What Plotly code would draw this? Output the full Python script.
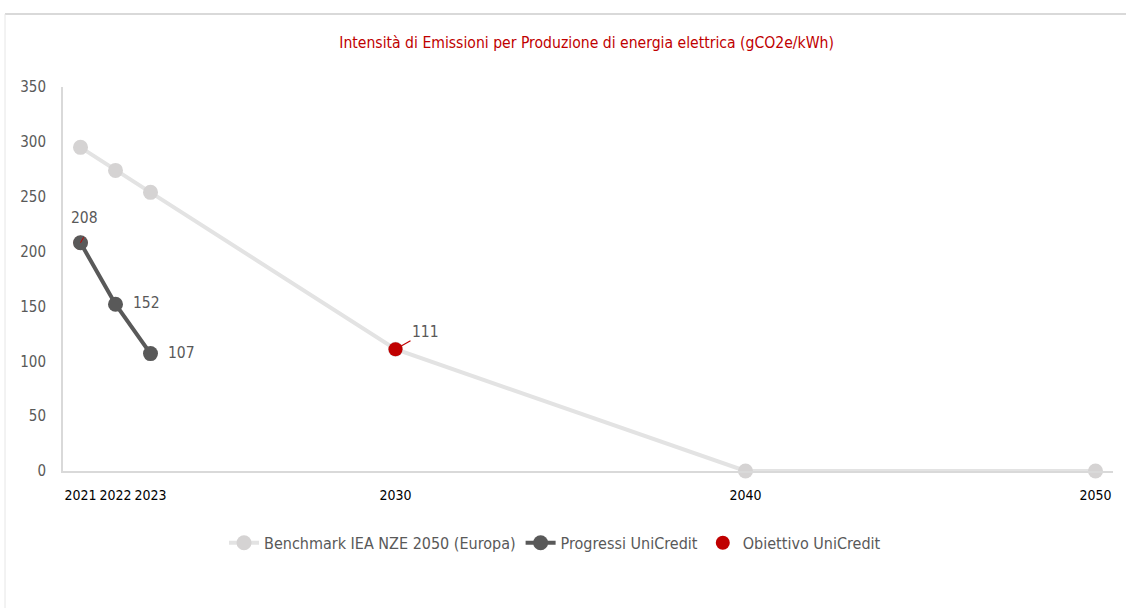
import plotly.graph_objects as go

years_bench = [2021, 2022, 2023, 2030, 2040, 2050]
bench_vals = [295, 274, 254, 111, 0, 0]
years_prog = [2021, 2022, 2023]
prog_vals = [208, 152, 107]
years_target = [2021, 2030]
target_vals = [208, 111]
tick_years = [2021, 2022, 2023, 2030, 2040, 2050]
y_ticks = [0, 50, 100, 150, 200, 250, 300, 350]

FONT = "DejaVu Sans Condensed, Liberation Sans Narrow, sans-serif"
GRAY_TXT = "#595959"
RED = "#C00000"

fig = go.Figure()
fig.add_trace(go.Scatter(
    x=years_bench, y=bench_vals, name="Benchmark IEA NZE 2050 (Europa)",
    mode="lines+markers", line=dict(color="#E3E3E3", width=4),
    marker=dict(color="#D5D3D3", size=15), cliponaxis=False, legendrank=1))
fig.add_trace(go.Scatter(
    x=years_target, y=target_vals, name="Obiettivo UniCredit",
    mode="markers", marker=dict(color=RED, size=14), cliponaxis=False, legendrank=3))
fig.add_trace(go.Scatter(
    x=years_prog, y=prog_vals, name="Progressi UniCredit",
    mode="lines+markers", line=dict(color="#595959", width=4),
    marker=dict(color="#595959", size=15), cliponaxis=False, legendrank=2))

LBL = dict(size=15.5, color=GRAY_TXT, family=FONT)
annotations = []
annotations.append(dict(x=years_prog[0], y=prog_vals[0], text=str(prog_vals[0]), showarrow=False,
                        xshift=4, yshift=25, font=LBL))
annotations.append(dict(x=years_prog[0], y=prog_vals[0], text="", showarrow=True, arrowhead=0,
                        arrowcolor=RED, arrowwidth=1, ax=4, ay=-7, standoff=0))
for xv, yv in zip(years_prog[1:], prog_vals[1:]):
    annotations.append(dict(x=xv, y=yv, text=str(yv), showarrow=False, xanchor="left",
                            xshift=15, yshift=1, font=LBL))
annotations.append(dict(x=years_target[1], y=target_vals[1], text=str(target_vals[1]), showarrow=True,
                        arrowhead=0, arrowcolor=RED, arrowwidth=1.2, ax=30, ay=-17, standoff=4,
                        font=LBL))

fig.update_layout(
    width=1126, height=608,
    paper_bgcolor="white", plot_bgcolor="white",
    margin=dict(l=63, r=13, t=87, b=137, autoexpand=False),
    font=dict(family=FONT, color=GRAY_TXT, size=16),
    title=dict(text="Intensità di Emissioni per Produzione di energia elettrica (gCO2e/kWh)",
               font=dict(family=FONT, size=15.6, color=RED), x=0.521, xanchor="center",
               y=1 - 43 / 608, yanchor="middle", automargin=False),
    showlegend=True,
    legend=dict(orientation="h", x=0.4686, xanchor="center", y=-0.187, yanchor="middle",
                font=dict(size=16, color=GRAY_TXT, family=FONT), traceorder="normal"),
    xaxis=dict(range=[2020.5, 2050.5], tickmode="array", tickvals=tick_years,
               ticktext=[str(t) for t in tick_years], showgrid=False, zeroline=False,
               showline=True, linecolor="#D9D9D9", linewidth=2, ticks="", tickangle=0,
               automargin=False,
               tickfont=dict(size=14, color="#000000", family=FONT), ticklabelstandoff=10),
    yaxis=dict(range=[0, 350], tickmode="array", tickvals=y_ticks, showgrid=False,
               zeroline=False, showline=True, linecolor="#D9D9D9", linewidth=2, ticks="",
               automargin=False,
               tickfont=dict(size=15, color=GRAY_TXT, family=FONT), ticklabelstandoff=12),
    annotations=annotations,
    shapes=[
        dict(type="line", xref="paper", yref="paper", x0=-58 / 1050, x1=1.02,
             y0=1 + 73 / 384, y1=1 + 73 / 384, line=dict(color="#D9D9D9", width=2)),
        dict(type="line", xref="paper", yref="paper", x0=-58 / 1050, x1=-58 / 1050,
             y0=1 + 73 / 384, y1=-0.4, line=dict(color="#E6E6E6", width=1)),
    ],
)

fig.write_html("out.html", config={"displayModeBar": False},
               post_script="document.body.style.margin='0';document.body.style.overflow='hidden';")
